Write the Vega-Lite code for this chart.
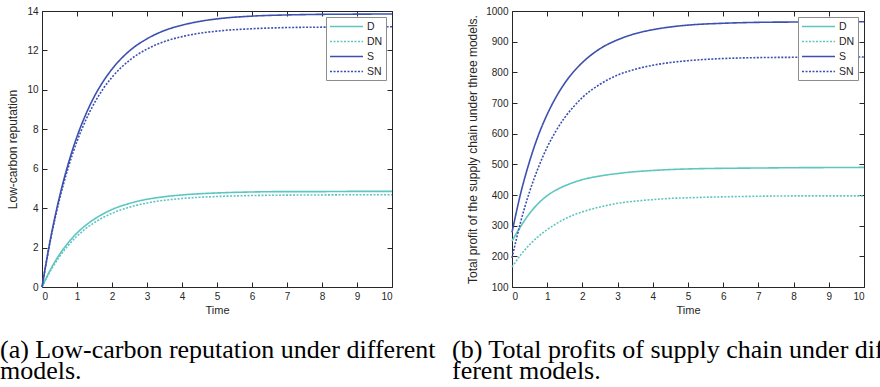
{
  "$schema": "https://vega.github.io/schema/vega-lite/v6.json",
  "autosize": {"type": "none"},
  "padding": {"left": 42, "top": 11, "right": 838, "bottom": 376},
  "background": "white",
  "config": {
    "view": {"stroke": "#262626", "strokeWidth": 1},
    "axis": {"labelFont": "Liberation Sans", "labelFontSize": 10, "labelColor": "#262626", "titleFont": "Liberation Sans", "titleFontSize": 12, "titleColor": "#262626", "titleFontWeight": "normal", "grid": false, "domain": false, "tickColor": "#262626", "tickSize": -5, "labelPadding": 9},
    "legend": {"orient": "top-right", "offset": 6, "symbolType": "M-3,0H3", "symbolSize": 121, "symbolOffset": 11, "symbolStrokeWidth": 1.6, "labelFont": "Liberation Sans", "labelFontSize": 10.5, "labelColor": "#262626", "strokeColor": "#8c8c8c", "fillColor": "white", "padding": 3, "rowPadding": 3, "labelOffset": 14},
    "title": {"orient": "bottom", "anchor": "start", "frame": "group", "font": "Liberation Serif", "fontSize": 26, "fontWeight": "normal", "color": "#000000", "lineHeight": 21, "offset": 22}
  },
  "datasets": {
    "a": [
      {"t": 0, "s": "D", "v": 0}, {"t": 0, "s": "DN", "v": 0}, {"t": 0, "s": "S", "v": 0}, {"t": 0, "s": "SN", "v": 0},
      {"t": 0.25, "s": "D", "v": 0.91}, {"t": 0.25, "s": "DN", "v": 0.85}, {"t": 0.25, "s": "S", "v": 2.51}, {"t": 0.25, "s": "SN", "v": 2.45},
      {"t": 0.5, "s": "D", "v": 1.65}, {"t": 0.5, "s": "DN", "v": 1.54}, {"t": 0.5, "s": "S", "v": 4.57}, {"t": 0.5, "s": "SN", "v": 4.44},
      {"t": 0.75, "s": "D", "v": 2.25}, {"t": 0.75, "s": "DN", "v": 2.11}, {"t": 0.75, "s": "S", "v": 6.25}, {"t": 0.75, "s": "SN", "v": 6.06},
      {"t": 1, "s": "D", "v": 2.74}, {"t": 1, "s": "DN", "v": 2.58}, {"t": 1, "s": "S", "v": 7.63}, {"t": 1, "s": "SN", "v": 7.39},
      {"t": 1.25, "s": "D", "v": 3.13}, {"t": 1.25, "s": "DN", "v": 2.96}, {"t": 1.25, "s": "S", "v": 8.75}, {"t": 1.25, "s": "SN", "v": 8.46},
      {"t": 1.5, "s": "D", "v": 3.45}, {"t": 1.5, "s": "DN", "v": 3.27}, {"t": 1.5, "s": "S", "v": 9.68}, {"t": 1.5, "s": "SN", "v": 9.34},
      {"t": 1.75, "s": "D", "v": 3.71}, {"t": 1.75, "s": "DN", "v": 3.53}, {"t": 1.75, "s": "S", "v": 10.43}, {"t": 1.75, "s": "SN", "v": 10.06},
      {"t": 2, "s": "D", "v": 3.93}, {"t": 2, "s": "DN", "v": 3.74}, {"t": 2, "s": "S", "v": 11.05}, {"t": 2, "s": "SN", "v": 10.64},
      {"t": 2.5, "s": "D", "v": 4.24}, {"t": 2.5, "s": "DN", "v": 4.05}, {"t": 2.5, "s": "S", "v": 11.98}, {"t": 2.5, "s": "SN", "v": 11.5},
      {"t": 3, "s": "D", "v": 4.45}, {"t": 3, "s": "DN", "v": 4.26}, {"t": 3, "s": "S", "v": 12.59}, {"t": 3, "s": "SN", "v": 12.07},
      {"t": 3.5, "s": "D", "v": 4.58}, {"t": 3.5, "s": "DN", "v": 4.4}, {"t": 3.5, "s": "S", "v": 13.01}, {"t": 3.5, "s": "SN", "v": 12.45},
      {"t": 4, "s": "D", "v": 4.67}, {"t": 4, "s": "DN", "v": 4.49}, {"t": 4, "s": "S", "v": 13.28}, {"t": 4, "s": "SN", "v": 12.7},
      {"t": 4.5, "s": "D", "v": 4.73}, {"t": 4.5, "s": "DN", "v": 4.55}, {"t": 4.5, "s": "S", "v": 13.47}, {"t": 4.5, "s": "SN", "v": 12.87},
      {"t": 5, "s": "D", "v": 4.77}, {"t": 5, "s": "DN", "v": 4.59}, {"t": 5, "s": "S", "v": 13.6}, {"t": 5, "s": "SN", "v": 12.98},
      {"t": 6, "s": "D", "v": 4.82}, {"t": 6, "s": "DN", "v": 4.64}, {"t": 6, "s": "S", "v": 13.74}, {"t": 6, "s": "SN", "v": 13.1},
      {"t": 7, "s": "D", "v": 4.84}, {"t": 7, "s": "DN", "v": 4.66}, {"t": 7, "s": "S", "v": 13.8}, {"t": 7, "s": "SN", "v": 13.16},
      {"t": 8, "s": "D", "v": 4.84}, {"t": 8, "s": "DN", "v": 4.67}, {"t": 8, "s": "S", "v": 13.83}, {"t": 8, "s": "SN", "v": 13.18},
      {"t": 9, "s": "D", "v": 4.85}, {"t": 9, "s": "DN", "v": 4.68}, {"t": 9, "s": "S", "v": 13.84}, {"t": 9, "s": "SN", "v": 13.19},
      {"t": 10, "s": "D", "v": 4.85}, {"t": 10, "s": "DN", "v": 4.68}, {"t": 10, "s": "S", "v": 13.85}, {"t": 10, "s": "SN", "v": 13.2}
    ],
    "b": [
      {"t": 0, "s": "D", "v": 250}, {"t": 0, "s": "DN", "v": 165}, {"t": 0, "s": "S", "v": 278}, {"t": 0, "s": "SN", "v": 195},
      {"t": 0.25, "s": "D", "v": 298}, {"t": 0.25, "s": "DN", "v": 205}, {"t": 0.25, "s": "S", "v": 407}, {"t": 0.25, "s": "SN", "v": 314},
      {"t": 0.5, "s": "D", "v": 340}, {"t": 0.5, "s": "DN", "v": 238}, {"t": 0.5, "s": "S", "v": 510}, {"t": 0.5, "s": "SN", "v": 411},
      {"t": 0.75, "s": "D", "v": 373}, {"t": 0.75, "s": "DN", "v": 265}, {"t": 0.75, "s": "S", "v": 595}, {"t": 0.75, "s": "SN", "v": 490},
      {"t": 1, "s": "D", "v": 398}, {"t": 1, "s": "DN", "v": 287}, {"t": 1, "s": "S", "v": 663}, {"t": 1, "s": "SN", "v": 556},
      {"t": 1.25, "s": "D", "v": 416}, {"t": 1.25, "s": "DN", "v": 306}, {"t": 1.25, "s": "S", "v": 719}, {"t": 1.25, "s": "SN", "v": 609},
      {"t": 1.5, "s": "D", "v": 430}, {"t": 1.5, "s": "DN", "v": 322}, {"t": 1.5, "s": "S", "v": 765}, {"t": 1.5, "s": "SN", "v": 653},
      {"t": 1.75, "s": "D", "v": 441}, {"t": 1.75, "s": "DN", "v": 335}, {"t": 1.75, "s": "S", "v": 802}, {"t": 1.75, "s": "SN", "v": 688},
      {"t": 2, "s": "D", "v": 450}, {"t": 2, "s": "DN", "v": 345}, {"t": 2, "s": "S", "v": 832}, {"t": 2, "s": "SN", "v": 718},
      {"t": 2.5, "s": "D", "v": 462}, {"t": 2.5, "s": "DN", "v": 361}, {"t": 2.5, "s": "S", "v": 877}, {"t": 2.5, "s": "SN", "v": 761},
      {"t": 3, "s": "D", "v": 470}, {"t": 3, "s": "DN", "v": 373}, {"t": 3, "s": "S", "v": 906}, {"t": 3, "s": "SN", "v": 791},
      {"t": 3.5, "s": "D", "v": 476}, {"t": 3.5, "s": "DN", "v": 380}, {"t": 3.5, "s": "S", "v": 926}, {"t": 3.5, "s": "SN", "v": 810},
      {"t": 4, "s": "D", "v": 480}, {"t": 4, "s": "DN", "v": 385}, {"t": 4, "s": "S", "v": 939}, {"t": 4, "s": "SN", "v": 823},
      {"t": 4.5, "s": "D", "v": 483}, {"t": 4.5, "s": "DN", "v": 389}, {"t": 4.5, "s": "S", "v": 948}, {"t": 4.5, "s": "SN", "v": 832},
      {"t": 5, "s": "D", "v": 485}, {"t": 5, "s": "DN", "v": 391}, {"t": 5, "s": "S", "v": 954}, {"t": 5, "s": "SN", "v": 838},
      {"t": 6, "s": "D", "v": 487}, {"t": 6, "s": "DN", "v": 394}, {"t": 6, "s": "S", "v": 960}, {"t": 6, "s": "SN", "v": 845},
      {"t": 7, "s": "D", "v": 488}, {"t": 7, "s": "DN", "v": 396}, {"t": 7, "s": "S", "v": 963}, {"t": 7, "s": "SN", "v": 848},
      {"t": 8, "s": "D", "v": 489}, {"t": 8, "s": "DN", "v": 397}, {"t": 8, "s": "S", "v": 964}, {"t": 8, "s": "SN", "v": 849},
      {"t": 9, "s": "D", "v": 489.5}, {"t": 9, "s": "DN", "v": 397}, {"t": 9, "s": "S", "v": 965}, {"t": 9, "s": "SN", "v": 850},
      {"t": 10, "s": "D", "v": 490}, {"t": 10, "s": "DN", "v": 397}, {"t": 10, "s": "S", "v": 965}, {"t": 10, "s": "SN", "v": 850}
    ]
  },
  "spacing": 120,
  "bounds": "flush",
  "resolve": {"scale": {"color": "independent", "strokeDash": "independent"}},
  "hconcat": [
    {
      "width": 350,
      "height": 276,
      "data": {"name": "a"},
      "title": {"text": ["(a) Low-carbon reputation under different", "models."], "dx": -42},
      "encoding": {
        "color": {"field": "s", "type": "nominal", "scale": {"domain": ["D", "DN", "S", "SN"], "range": ["#5ec6c0", "#5ec6c0", "#3d50b0", "#3d50b0"]}, "legend": {"title": null}},
        "strokeDash": {"field": "s", "type": "nominal", "scale": {"domain": ["D", "DN", "S", "SN"], "range": [[1, 0], [2, 1.5], [1, 0], [2, 1.5]]}, "legend": {"title": null}}
      },
      "layer": [
        {
          "transform": [{"filter": "datum.s === 'D' || datum.s === 'DN'"}],
          "mark": {"type": "line", "strokeWidth": 1.6, "interpolate": "monotone"},
          "encoding": {
            "x": {"field": "t", "type": "quantitative", "scale": {"domain": [0, 10], "nice": false}, "axis": {"orient": "bottom", "title": "Time", "titleFontSize": 11, "values": [0, 1, 2, 3, 4, 5, 6, 7, 8, 9, 10], "titlePadding": 3}},
            "y": {"field": "v", "type": "quantitative", "scale": {"domain": [0, 14], "nice": false}, "axis": {"orient": "left", "title": "Low-carbon reputation", "values": [0, 2, 4, 6, 8, 10, 12, 14], "titlePadding": 7}}
          }
        },
        {
          "transform": [{"filter": "datum.s === 'S' || datum.s === 'SN'"}],
          "mark": {"type": "line", "strokeWidth": 1.6, "interpolate": "monotone"},
          "encoding": {
            "x": {"field": "t", "type": "quantitative", "scale": {"domain": [0, 10], "nice": false}, "axis": {"orient": "top", "title": null, "labels": false, "values": [0, 1, 2, 3, 4, 5, 6, 7, 8, 9, 10]}},
            "y": {"field": "v", "type": "quantitative", "scale": {"domain": [0, 14], "nice": false}, "axis": {"orient": "right", "title": null, "labels": false, "values": [0, 2, 4, 6, 8, 10, 12, 14]}}
          }
        }
      ],
      "resolve": {"axis": {"x": "independent", "y": "independent"}}
    },
    {
      "width": 352,
      "height": 276,
      "data": {"name": "b"},
      "title": {"text": ["(b) Total profits of supply chain under dif-", "ferent models."], "dx": -60},
      "encoding": {
        "color": {"field": "s", "type": "nominal", "scale": {"domain": ["D", "DN", "S", "SN"], "range": ["#5ec6c0", "#5ec6c0", "#3d50b0", "#3d50b0"]}, "legend": {"title": null}},
        "strokeDash": {"field": "s", "type": "nominal", "scale": {"domain": ["D", "DN", "S", "SN"], "range": [[1, 0], [2, 1.5], [1, 0], [2, 1.5]]}, "legend": {"title": null}}
      },
      "layer": [
        {
          "transform": [{"filter": "datum.s === 'D' || datum.s === 'DN'"}],
          "mark": {"type": "line", "strokeWidth": 1.6, "interpolate": "monotone"},
          "encoding": {
            "x": {"field": "t", "type": "quantitative", "scale": {"domain": [0, 10], "nice": false}, "axis": {"orient": "bottom", "title": "Time", "titleFontSize": 11, "values": [0, 1, 2, 3, 4, 5, 6, 7, 8, 9, 10], "titlePadding": 3}},
            "y": {"field": "v", "type": "quantitative", "scale": {"domain": [100, 1000], "nice": false, "zero": false}, "axis": {"orient": "left", "title": "Total profit of the supply chain under three models.", "format": "d", "values": [100, 200, 300, 400, 500, 600, 700, 800, 900, 1000], "titlePadding": 6}}
          }
        },
        {
          "transform": [{"filter": "datum.s === 'S' || datum.s === 'SN'"}],
          "mark": {"type": "line", "strokeWidth": 1.6, "interpolate": "monotone"},
          "encoding": {
            "x": {"field": "t", "type": "quantitative", "scale": {"domain": [0, 10], "nice": false}, "axis": {"orient": "top", "title": null, "labels": false, "values": [0, 1, 2, 3, 4, 5, 6, 7, 8, 9, 10]}},
            "y": {"field": "v", "type": "quantitative", "scale": {"domain": [100, 1000], "nice": false, "zero": false}, "axis": {"orient": "right", "title": null, "labels": false, "values": [100, 200, 300, 400, 500, 600, 700, 800, 900, 1000]}}
          }
        }
      ],
      "resolve": {"axis": {"x": "independent", "y": "independent"}}
    }
  ]
}
